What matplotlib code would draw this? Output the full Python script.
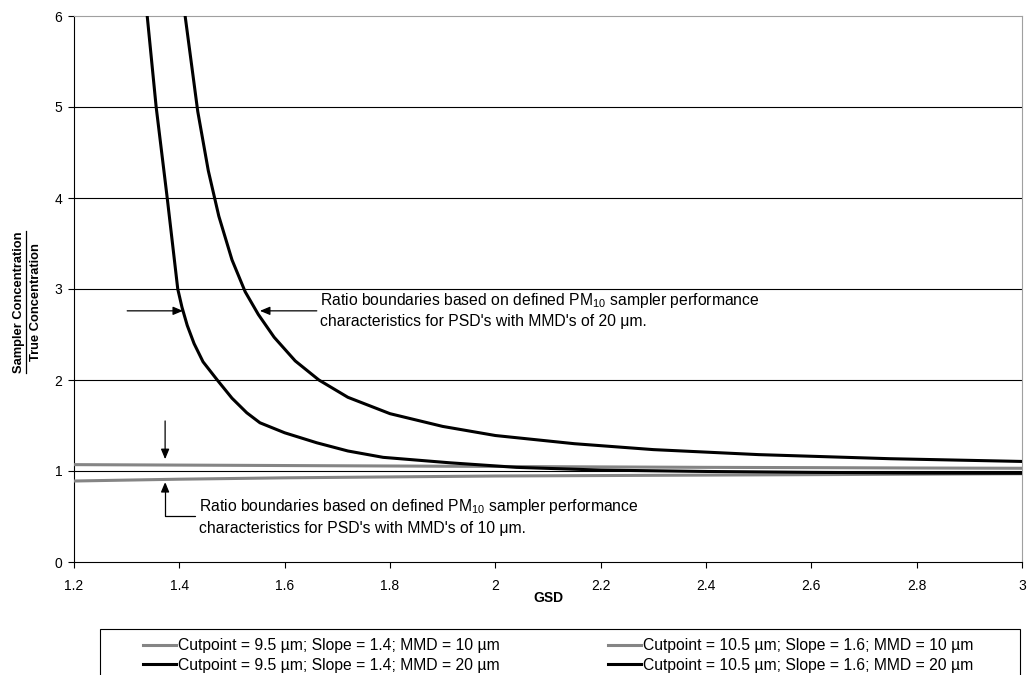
import matplotlib
matplotlib.use("Agg")
import matplotlib.pyplot as plt
from matplotlib.lines import Line2D
from matplotlib.patches import Rectangle

plt.rcParams['font.family'] = ['Liberation Sans', 'DejaVu Sans']
plt.rcParams['mathtext.fontset'] = 'custom'
plt.rcParams['mathtext.rm'] = 'Liberation Sans'

# Ratio (sampler / true concentration) vs GSD
gsd_mmd10 = [1.2, 1.4, 1.6, 1.8, 2.0, 2.2, 2.4, 2.6, 2.8, 3.0]
ratio_c95_mmd10 = [0.89, 0.91, 0.925, 0.935, 0.945, 0.95, 0.955, 0.96, 0.965, 0.97]
ratio_c105_mmd10 = [1.07, 1.065, 1.06, 1.055, 1.05, 1.045, 1.04, 1.037, 1.033, 1.03]

gsd_c95_mmd20 = [1.33, 1.339, 1.356, 1.377, 1.397, 1.405, 1.415, 1.428, 1.445, 1.472,
                 1.50, 1.528, 1.553, 1.60, 1.661, 1.72, 1.787, 1.914, 2.04, 2.2,
                 2.4, 2.6, 2.8, 3.0]
ratio_c95_mmd20 = [6.5, 6.0, 5.0, 4.0, 3.0, 2.8, 2.6, 2.4, 2.2, 2.0,
                   1.8, 1.64, 1.53, 1.42, 1.31, 1.22, 1.15, 1.09, 1.04, 1.01,
                   0.995, 0.985, 0.978, 0.975]

gsd_c105_mmd20 = [1.40, 1.411, 1.435, 1.455, 1.475, 1.50, 1.525, 1.55, 1.58, 1.62,
                  1.665, 1.72, 1.80, 1.90, 2.0, 2.15, 2.3, 2.5, 2.75, 3.0]
ratio_c105_mmd20 = [6.7, 6.0, 4.95, 4.3, 3.8, 3.32, 2.97, 2.72, 2.47, 2.21,
                    2.0, 1.81, 1.63, 1.49, 1.39, 1.30, 1.235, 1.18, 1.135, 1.105]

labels = ["Cutpoint = 9.5 µm; Slope = 1.4; MMD = 10 µm",
          "Cutpoint = 10.5 µm; Slope = 1.6; MMD = 10 µm",
          "Cutpoint = 9.5 µm; Slope = 1.4; MMD = 20 µm",
          "Cutpoint = 10.5 µm; Slope = 1.6; MMD = 20 µm"]

x_ticks = [1.2, 1.4, 1.6, 1.8, 2, 2.2, 2.4, 2.6, 2.8, 3]
x_tick_labels = ["1.2", "1.4", "1.6", "1.8", "2", "2.2", "2.4", "2.6", "2.8", "3"]
y_ticks = [0, 1, 2, 3, 4, 5, 6]

GRAY = '#858585'
W, H = 1029, 675
LW = 2.2

fig = plt.figure(figsize=(W / 100, H / 100), dpi=100)
ax = fig.add_axes([74 / W, 113 / H, 948 / W, 546 / H])

for y in [1, 2, 3, 4, 5]:
    ax.axhline(y, color='black', lw=0.8, zorder=1)

ax.plot(gsd_mmd10, ratio_c95_mmd10, color=GRAY, lw=LW, zorder=3)
ax.plot(gsd_mmd10, ratio_c105_mmd10, color=GRAY, lw=LW, zorder=3)
ax.plot(gsd_c95_mmd20, ratio_c95_mmd20, color='black', lw=LW, zorder=4)
ax.plot(gsd_c105_mmd20, ratio_c105_mmd20, color='black', lw=LW, zorder=4)

ax.set_xlim(1.2, 3)
ax.set_ylim(0, 6)
ax.set_xticks(x_ticks)
ax.set_xticklabels(x_tick_labels)
ax.set_yticks(y_ticks)
ax.tick_params(axis='both', labelsize=10, direction='out', length=4.3, width=0.8, colors='black')
ax.tick_params(axis='x', pad=8)
ax.tick_params(axis='y', pad=4)

ax.spines['left'].set_color('black')
ax.spines['bottom'].set_color('black')
ax.spines['top'].set_color('#a0a0a0')
ax.spines['right'].set_color('#a0a0a0')
for s in ax.spines.values():
    s.set_linewidth(0.8)

fig.text(548 / W, (H - 598) / H, "GSD", ha='center', va='center',
         fontsize=10, fontweight='bold')
t_top = fig.text(19 / W, (H - 302) / H, "Sampler Concentration", rotation=90,
                 ha='center', va='center', fontsize=9.3, fontweight='bold')
fig.text(36 / W, (H - 302) / H, "True Concentration", rotation=90,
         ha='center', va='center', fontsize=9.3, fontweight='bold')

# annotations
arrow = dict(arrowstyle='-|>,head_length=0.6,head_width=0.25', color='black',
             lw=0.9, shrinkA=0, shrinkB=0)
ax.annotate("", xy=(1.407, 2.76), xytext=(1.301, 2.76), arrowprops=arrow)
ax.annotate("", xy=(1.553, 2.76), xytext=(1.661, 2.76), arrowprops=arrow)
ax.text(1.667, 2.77, "Ratio boundaries based on defined PM$_\\mathregular{10}$ sampler performance\n"
        "characteristics for PSD's with MMD's of 20 μm.",
        fontsize=11.3, va='center', ha='left', linespacing=1.35)

ax.annotate("", xy=(1.373, 1.13), xytext=(1.373, 1.55), arrowprops=arrow)
elbow = dict(arrow, connectionstyle="angle,angleA=0,angleB=90,rad=0")
ax.annotate("", xy=(1.373, 0.879), xytext=(1.43, 0.505), arrowprops=elbow)
ax.text(1.437, 0.50, "Ratio boundaries based on defined PM$_\\mathregular{10}$ sampler performance\n"
        "characteristics for PSD's with MMD's of 10 μm.",
        fontsize=11.3, va='center', ha='left', linespacing=1.4)

# legend box and entries
fig.add_artist(Rectangle((100 / W, -0.1), 920 / W, 0.1 + 46 / H,
                         transform=fig.transFigure, fill=False,
                         edgecolor='black', lw=0.8))
leg_kw = dict(loc='upper left', frameon=False, borderpad=0, borderaxespad=0,
              handlelength=2.1, handletextpad=0.13, labelspacing=0.29, fontsize=11.3)
fig.legend([Line2D([], [], color=GRAY, lw=LW), Line2D([], [], color='black', lw=LW)],
           [labels[0], labels[2]],
           bbox_to_anchor=(143 / W, (H - 638) / H), **leg_kw)
fig.legend([Line2D([], [], color=GRAY, lw=LW), Line2D([], [], color='black', lw=LW)],
           [labels[1], labels[3]],
           bbox_to_anchor=(608 / W, (H - 638) / H), **leg_kw)

# underline the numerator of the y label
fig.canvas.draw()
bb = t_top.get_window_extent()
inv = fig.transFigure.inverted()
(x0, y0), (x1, y1) = inv.transform([(bb.x1 + 1, bb.y0), (bb.x1 + 1, bb.y1)])
fig.add_artist(Line2D([x0, x0], [y0, y1], color='black', lw=0.9,
                      transform=fig.transFigure))

fig.savefig('out.png', dpi=100)
